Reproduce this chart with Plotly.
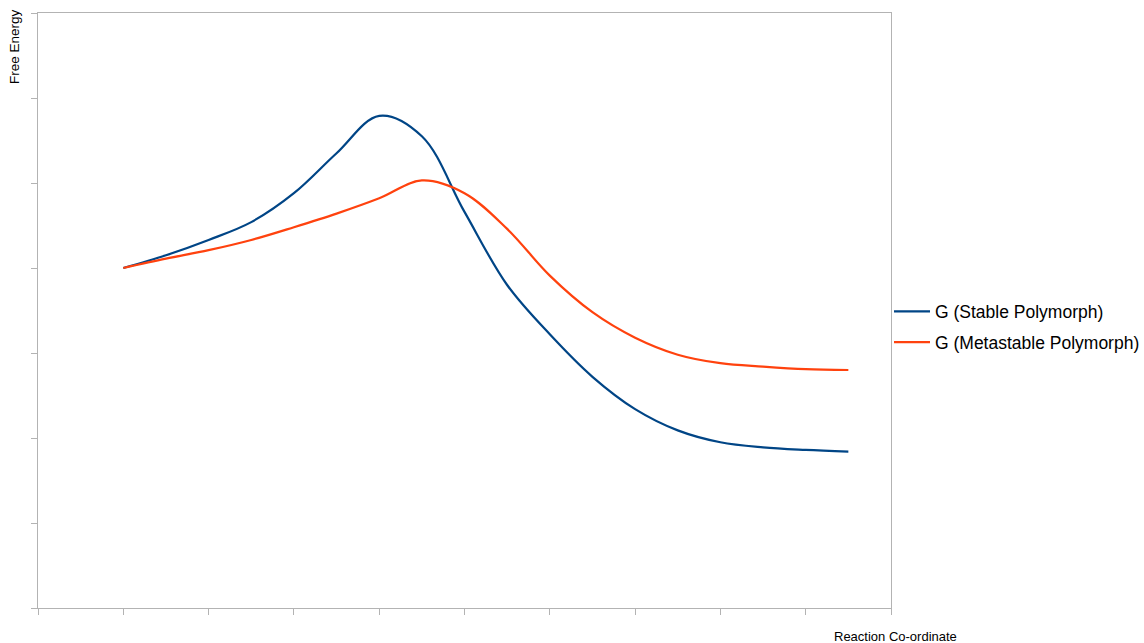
import plotly.graph_objects as go

# Reaction coordinate positions (axis units, ticks every 1)
x_vals = [1.0, 1.5, 2.0, 2.5, 3.0, 3.5, 4.0, 4.5, 5.0, 5.5, 6.0, 6.5, 7.0, 7.5, 8.0, 8.5, 9.0, 9.5]

# Free energy values
g_stable = [4.00, 4.15, 4.33, 4.54, 4.88, 5.35, 5.79, 5.55, 4.66, 3.80, 3.22, 2.72, 2.34, 2.09, 1.95, 1.89, 1.86, 1.84]
g_metastable = [4.00, 4.11, 4.21, 4.33, 4.48, 4.64, 4.82, 5.03, 4.88, 4.46, 3.91, 3.48, 3.18, 2.98, 2.88, 2.84, 2.81, 2.80]

series_names = ["G (Stable Polymorph)", "G (Metastable Polymorph)"]
series_colors = ["#004586", "#ff420e"]

fig = go.Figure()
for i, (name, ys, col) in enumerate(zip(series_names, [g_stable, g_metastable], series_colors)):
    fig.add_trace(go.Scatter(
        x=x_vals, y=ys, mode="lines", name=name,
        line=dict(color=col, width=2.2, shape="spline", smoothing=1.0),
        legendgroup=f"g{i}",
    ))

axis_common = dict(
    showgrid=False, zeroline=False, showticklabels=False,
    showline=True, linecolor="#b3b3b3", linewidth=1, mirror=True,
    ticks="outside", ticklen=6, tickcolor="#b3b3b3", tickwidth=1,
)

fig.update_layout(
    width=1144, height=643,
    margin=dict(l=38, r=253, t=13, b=35, autoexpand=False),
    paper_bgcolor="#ffffff", plot_bgcolor="#ffffff",
    font=dict(family="Liberation Sans", color="#000000"),
    xaxis=dict(range=[0, 10], dtick=1, tick0=0, **axis_common),
    yaxis=dict(range=[0, 7], dtick=1, tick0=0, **axis_common),
    showlegend=True,
    legend=dict(
        xref="container", yref="container",
        x=889/1144, xanchor="left", y=1-327/643, yanchor="middle",
        font=dict(size=17.5, family="Liberation Sans", color="#000000"),
        bgcolor="rgba(0,0,0,0)", tracegroupgap=5, itemwidth=36,
    ),
    annotations=[
        dict(text="Free Energy", xref="paper", yref="paper",
             x=-24/853, y=(608-47)/595, textangle=-90,
             showarrow=False, xanchor="center", yanchor="middle",
             font=dict(size=13.5, family="Liberation Sans", color="#000000")),
        dict(text="Reaction Co-ordinate", xref="paper", yref="paper",
             x=(895-38)/853, y=-(636-608)/595,
             showarrow=False, xanchor="center", yanchor="middle",
             font=dict(size=13, family="Liberation Sans", color="#000000")),
    ],
)

fig.write_html(
    "out.html",
    config={"responsive": False, "displayModeBar": False},
    post_script=(
        "document.documentElement.style.overflow='hidden';"
        "document.body.style.margin='0';document.body.style.padding='0';"
        "document.body.style.overflow='hidden';"
    ),
)
